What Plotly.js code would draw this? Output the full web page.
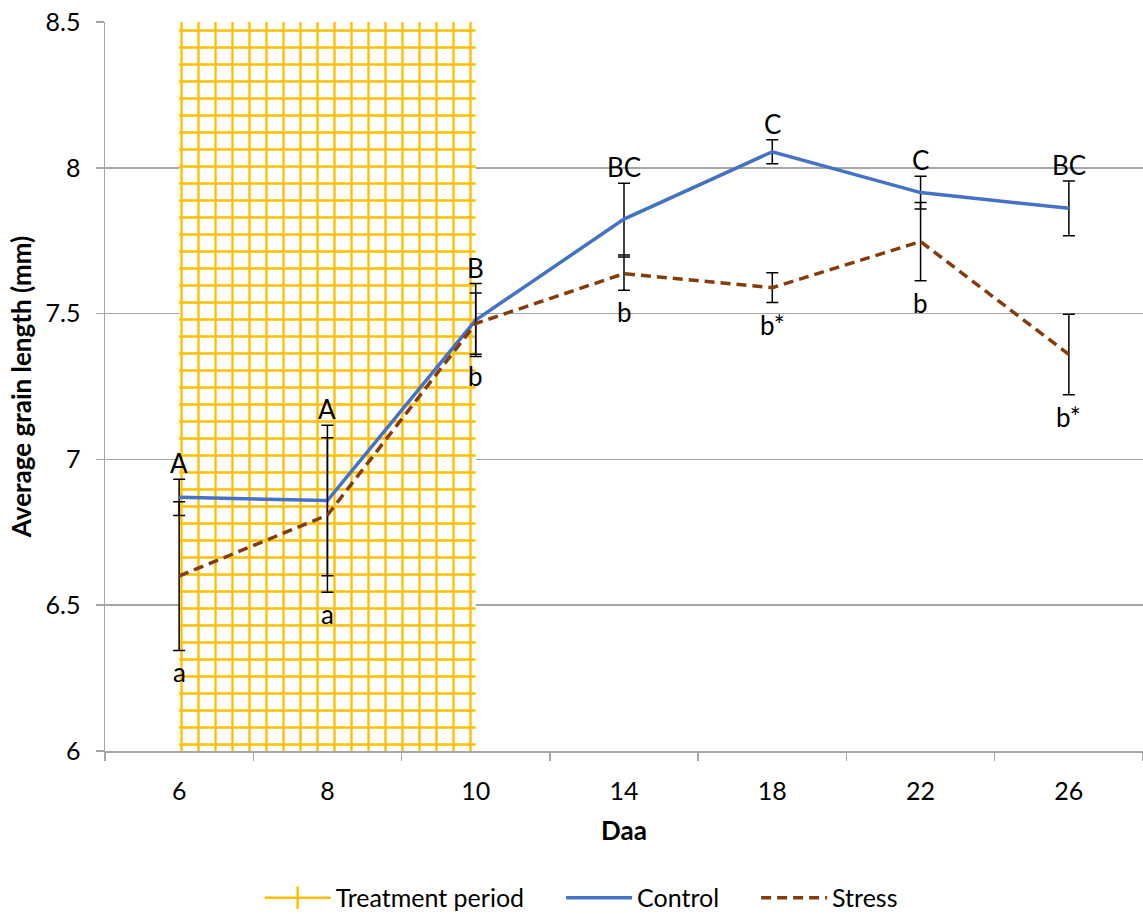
<!DOCTYPE html>
<html>
<head>
<meta charset="utf-8">
<script src="https://cdn.plot.ly/plotly-3.0.1.min.js"></script>
<style>
  html, body { margin: 0; padding: 0; background: #ffffff; }
  #chart { width: 1143px; height: 914px; }
</style>
</head>
<body>
<div id="chart"></div>
<script>
// ---- Data ----
const daa = ['6', '8', '10', '14', '18', '22', '26'];
const controlMean = [6.870, 6.859, 7.478, 7.824, 8.055, 7.915, 7.861];
const controlErr  = [0.062, 0.258, 0.125, 0.123, 0.041, 0.056, 0.094];
const stressMean  = [6.600, 6.809, 7.466, 7.637, 7.589, 7.747, 7.360];
const stressErr   = [0.255, 0.265, 0.105, 0.057, 0.051, 0.134, 0.138];
const controlLetters = ['A', 'A', 'B', 'BC', 'C', 'C', 'BC'];
const stressLetters  = ['a', 'a', 'b', 'b', 'b*', 'b', 'b*'];
// treatment period spans from 6 Daa to 10 Daa (category index 0 .. 2)
const treatmentStart = 0;
const treatmentEnd = 2;
const yMin = 6, yMax = 8.5;

const idx = daa.map((d, i) => i);
const FONT = 'Lato, "Open Sans", Arial, sans-serif';
const PAD = '\u00a0\u00a0\u00a0\u00a0\u00a0';

const treatment = {
  type: 'bar',
  name: 'Treatment period',
  showlegend: false,
  x: [(treatmentStart + treatmentEnd) / 2],
  y: [yMax - yMin],
  base: [yMin],
  width: [treatmentEnd - treatmentStart],
  marker: {
    color: '#ffffff',
    line: { width: 0 },
    pattern: { shape: '+', fgcolor: '#FFC000', bgcolor: '#ffffff', size: 17, solidity: 0.26, fillmode: 'replace' }
  },
  hoverinfo: 'skip'
};

// legend entry for the treatment period
const treatmentLegend = {
  type: 'scatter',
  mode: 'lines+markers',
  name: 'Treatment period' + PAD,
  x: [null],
  y: [null],
  line: { color: '#FFC000', width: 2.5 },
  marker: { symbol: 'line-ns-open', size: 16, color: '#FFC000', line: { color: '#FFC000', width: 2.5 } },
  hoverinfo: 'skip'
};

const control = {
  type: 'scatter',
  mode: 'lines',
  name: 'Control' + PAD,
  x: idx,
  y: controlMean,
  line: { color: '#4472C4', width: 3.5 },
  error_y: { type: 'data', array: controlErr, visible: true, color: '#000000', thickness: 1.5, width: 6 }
};

const stress = {
  type: 'scatter',
  mode: 'lines',
  name: 'Stress',
  x: idx,
  y: stressMean,
  line: { color: '#843C0C', width: 3.5, dash: '10px,6px' },
  error_y: { type: 'data', array: stressErr, visible: true, color: '#000000', thickness: 1.5, width: 6 }
};

const annotations = [];
idx.forEach(i => {
  annotations.push({
    x: i, y: controlMean[i] + controlErr[i], xref: 'x', yref: 'y',
    text: controlLetters[i], showarrow: false, yanchor: 'bottom', yshift: -2,
    font: { family: FONT, size: 26, color: '#000000' }
  });
  annotations.push({
    x: i, y: stressMean[i] - stressErr[i], xref: 'x', yref: 'y',
    text: stressLetters[i], showarrow: false, yanchor: 'top', yshift: -4,
    font: { family: FONT, size: 26, color: '#000000' }
  });
});

const layout = {
  width: 1143,
  height: 914,
  margin: { l: 105, r: 0, t: 22, b: 163, autoexpand: false },
  paper_bgcolor: '#ffffff',
  plot_bgcolor: '#ffffff',
  font: { family: FONT, size: 25, color: '#000000' },
  showlegend: true,
  barmode: 'overlay',
  legend: {
    orientation: 'h',
    x: 0.149, xanchor: 'left',
    y: -0.2016, yanchor: 'middle',
    font: { family: FONT, size: 25, color: '#000000' },
    traceorder: 'normal',
    itemwidth: 66
  },
  xaxis: {
    type: 'linear',
    range: [-0.5, daa.length - 0.5],
    tickmode: 'array',
    tickvals: idx,
    ticktext: daa,
    ticks: '',
    ticklabelstandoff: 17,
    showgrid: false,
    zeroline: false,
    showline: true,
    linecolor: '#A6A6A6',
    linewidth: 1.5,
    tickfont: { family: FONT, size: 25 },
    minor: { tickmode: 'linear', tick0: -0.5, dtick: 1, ticks: 'outside', ticklen: 8, tickwidth: 1.5, tickcolor: '#A6A6A6', showgrid: false },
    title: { text: '<b>Daa</b>', font: { family: FONT, size: 26 }, standoff: 18 },
    automargin: false,
    fixedrange: true
  },
  yaxis: {
    range: [yMin, yMax],
    tickmode: 'linear',
    tick0: 6,
    dtick: 0.5,
    ticks: 'outside',
    ticklen: 8,
    tickwidth: 1.5,
    tickcolor: '#A6A6A6',
    ticklabelstandoff: 10,
    showgrid: true,
    gridcolor: '#A6A6A6',
    gridwidth: 1.5,
    zeroline: false,
    showline: true,
    linecolor: '#A6A6A6',
    linewidth: 1.5,
    tickfont: { family: FONT, size: 25 },
    title: { text: '<b>Average grain length (mm)</b>', font: { family: FONT, size: 26 }, standoff: 6 },
    automargin: false,
    fixedrange: true
  },
  annotations: annotations
};

Plotly.newPlot('chart', [treatment, treatmentLegend, control, stress], layout, { displayModeBar: false, staticPlot: true });
</script>
</body>
</html>
